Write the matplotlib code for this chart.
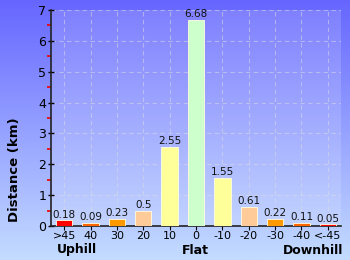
import matplotlib
matplotlib.use("Agg")
import matplotlib.pyplot as plt
import numpy as np
from matplotlib.colors import LinearSegmentedColormap

categories = [">45", "40", "30", "20", "10", "0", "-10", "-20", "-30", "-40", "<-45"]
values = [0.18, 0.09, 0.23, 0.5, 2.55, 6.68, 1.55, 0.61, 0.22, 0.11, 0.05]
bar_colors = ["#ff0000", "#ff6600", "#ff9900", "#ffcc99", "#ffff99", "#ccffcc",
              "#ffff99", "#ffcc99", "#ff9900", "#ff6600", "#ff0000"]
group_labels = ["Uphill", "Flat", "Downhill"]
y_ticks = [0, 1, 2, 3, 4, 5, 6, 7]

fig = plt.figure(figsize=(3.5, 2.6), dpi=100)

# background gradient
bg = fig.add_axes([0, 0, 1, 1], zorder=-10)
cmap = LinearSegmentedColormap.from_list("bg", ["#6666ff", "#c4dcff"])
grad = np.linspace(0, 1, 256).reshape(-1, 1)
bg.imshow(grad, aspect="auto", cmap=cmap, extent=[0, 1, 0, 1], origin="upper")
bg.axis("off")

ax = fig.add_axes([51/350, 34/260, 290/350, 216/260])
ax.set_facecolor((1, 1, 1, 0.15))
x = np.arange(len(categories))
ax.bar(x, values, width=0.62, color=bar_colors, edgecolor="#ffffe0", linewidth=0.6, zorder=3)
for xi, v in zip(x, values):
    ax.text(xi, v + 0.03, f"{v:g}", ha="center", va="bottom", fontsize=7.5, color="#111111", zorder=4)

ax.set_xlim(-0.5, len(categories) - 0.5)
ax.set_ylim(0, 7)
ax.set_yticks(y_ticks)
ax.set_yticks(np.arange(0.5, 7, 1), minor=True)
ax.set_xticks(x)
ax.set_xticklabels(categories, fontsize=8)
ax.tick_params(axis="y", which="major", direction="inout", length=5, width=1, labelsize=9, pad=1)
ax.tick_params(axis="y", which="minor", direction="out", length=3, width=1.2, color="#ee0000")
ax.tick_params(axis="x", which="major", direction="out", length=3, width=0.8, pad=0.5)
ax.grid(True, which="major", color="#dddddd", alpha=0.5, linestyle=(0, (4, 3)), linewidth=0.8, zorder=0)
ax.set_axisbelow(True)
for s in ["top", "right"]:
    ax.spines[s].set_visible(False)
for s in ["left", "bottom"]:
    ax.spines[s].set_color("#222222")
    ax.spines[s].set_linewidth(1.2)

fig.text(15/350, 1 - 170/260, "Distance (km)", rotation=90, ha="center", va="center",
         fontsize=9.5, fontweight="bold")
for lbl, px in zip(group_labels, [77, 195, 313]):
    fig.text(px/350, 1 - 250/260, lbl, ha="center", va="center", fontsize=9, fontweight="bold")

fig.savefig("out.png", dpi=100)
